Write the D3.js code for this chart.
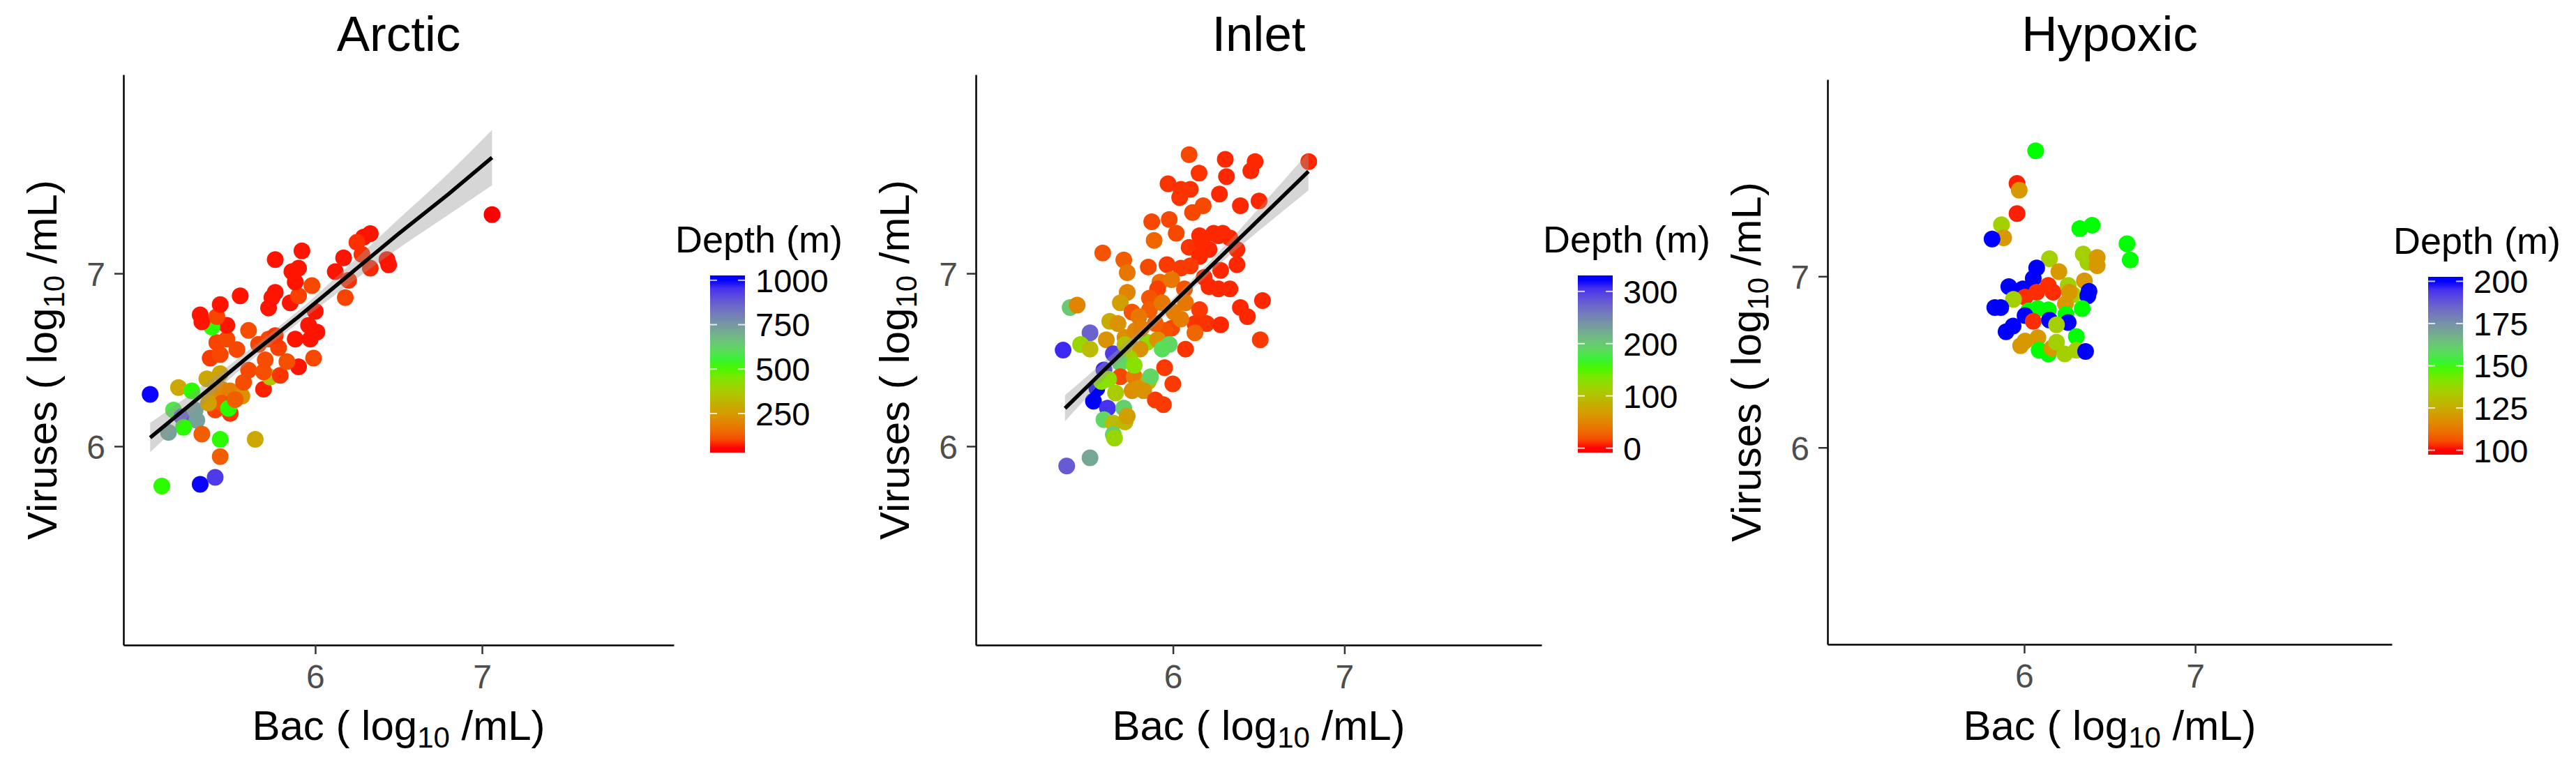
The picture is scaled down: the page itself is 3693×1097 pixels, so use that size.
<!DOCTYPE html>
<html>
<head>
<meta charset="utf-8">
<script src="https://cdn.jsdelivr.net/npm/d3@7"></script>
<style>
  body { margin: 0; background: #fff; }
  svg { display: block; font-family: "Liberation Sans", Arial, Helvetica, sans-serif; }
</style>
</head>
<body>
<div id="chart"></div>
<script>
// ---- data (log10 /mL, depth in m) ----
var arcticBac = [5.01,5.18,5.26,5.35,5.43,5.15,5.20,5.28,5.29,5.21,5.12,5.32,5.43,5.64,5.43,5.08,5.31,5.40,
  5.39,5.44,5.49,5.56,5.40,5.44,5.49,5.48,5.52,5.36,5.57,5.60,5.69,5.73,5.79,5.69,5.90,5.99,5.70,5.83,
  5.37,5.43,5.53,5.41,5.47,5.66,5.72,5.78,5.76,5.88,5.97,5.60,5.47,5.38,5.32,5.31,5.41,5.43,5.55,5.72,
  5.76,5.85,5.90,5.98,6.00,5.96,6.01,6.18,6.12,5.86,6.20,6.33,6.44,7.06,6.33,6.29,6.25,6.28,6.43,6.17,
  5.92,5.76,5.90,5.88,5.74];
var arcticVir = [6.30,6.34,6.32,6.39,6.42,6.21,6.17,6.21,6.15,6.11,6.08,6.07,6.04,6.04,5.94,5.77,5.78,5.82,
  6.29,6.33,6.32,6.29,6.21,6.25,6.19,6.22,6.27,6.25,6.37,6.44,6.33,6.40,6.41,6.43,6.46,6.51,6.50,6.49,
  6.51,6.53,6.56,6.60,6.62,6.59,6.62,6.57,6.64,6.62,6.62,6.67,6.70,6.69,6.72,6.76,6.75,6.82,6.87,6.80,
  6.89,6.83,6.87,6.93,6.78,6.70,6.66,6.86,7.01,7.01,6.96,7.03,7.05,7.34,7.23,7.21,7.18,7.11,7.08,7.09,
  7.13,7.08,7.03,6.95,6.86];
var arcticDepth = [1000,280,520,280,270,580,880,730,730,520,730,130,520,280,130,520,1000,940,
  230,210,190,230,90,120,80,520,130,260,105,100,65,360,80,110,60,100,105,110,
  85,100,100,95,100,95,100,90,80,60,60,105,60,520,60,60,95,60,60,60,
  60,60,90,100,60,60,60,95,60,60,75,70,60,55,60,60,75,75,60,60,
  60,60,60,60,60];
var arcticDepthLimits = [55, 1002];
var arcticDepthTicks = [250, 500, 750, 1000];
var arcticFitX  = [5.01, 5.30, 5.60, 5.90, 6.20, 6.50, 6.80, 7.06];
var arcticFitY  = [6.05, 6.28, 6.52, 6.75, 6.99, 7.23, 7.46, 7.67];
var arcticFitLo = [5.965, 6.225, 6.485, 6.715, 6.935, 7.145, 7.34, 7.51];
var arcticFitHi = [6.135, 6.335, 6.555, 6.785, 7.045, 7.315, 7.58, 7.83];

var inletBac = [6.094,6.305,6.479,6.454,6.792,6.152,6.312,5.971,6.046,6.101,6.039,6.271,6.176,6.114,6.393,6.502,
  5.876,5.978,6.019,5.890,5.590,5.713,5.733,5.856,5.965,6.046,6.094,6.169,6.237,6.291,6.210,6.373,6.155,6.373,
  6.278,6.182,5.924,5.992,6.067,5.910,6.210,6.265,6.332,6.522,6.393,6.434,6.509,5.733,5.400,5.441,5.863,5.863,
  5.937,6.005,6.073,6.155,6.128,6.196,6.278,6.128,6.073,5.992,5.951,5.693,5.761,5.631,5.679,5.516,5.461,5.516,
  5.359,5.611,5.720,5.781,5.849,5.910,5.978,5.937,5.808,5.652,5.747,5.693,5.597,5.951,5.999,5.693,5.774,5.856,
  5.869,5.761,5.829,5.897,5.944,5.556,5.536,5.618,5.665,5.624,5.713,5.597,5.652,5.720,5.652,5.659,5.516,5.380,
  5.801,5.815,5.897,6.046,6.101,6.155,6.265,6.332,5.583,5.720,5.774,5.733,5.795];
var inletVir = [7.687,7.660,7.647,7.593,7.647,7.580,7.560,7.519,7.486,7.486,7.439,7.459,7.392,7.352,7.392,7.419,
  7.299,7.312,7.232,7.191,7.118,7.078,7.004,7.037,7.051,7.031,7.151,7.178,7.232,7.232,7.138,7.138,7.098,7.051,
  7.017,6.977,6.950,6.964,6.910,6.910,6.924,6.910,6.910,6.843,6.803,6.750,6.616,6.890,6.803,6.817,6.857,6.790,
  6.830,6.776,6.830,6.790,6.710,6.710,6.703,6.656,6.562,6.683,6.669,6.830,6.776,6.723,6.710,6.656,6.589,6.562,
  6.556,6.616,6.629,6.669,6.602,6.616,6.589,6.562,6.562,6.535,6.509,6.482,6.442,6.455,6.361,6.402,6.402,6.375,
  6.402,6.321,6.321,6.268,6.241,6.335,6.261,6.221,6.308,6.388,6.221,6.154,6.134,6.141,6.067,6.047,5.933,5.886,
  6.750,6.683,6.710,6.736,7.044,7.218,7.218,7.205,6.375,6.589,6.469,6.174,6.335];
var inletDepth = [15,5,5,5,5,8,5,8,8,8,8,5,15,15,5,5,
  15,15,15,30,20,25,40,15,10,10,8,5,5,5,5,5,5,5,
  5,5,35,40,20,12,5,5,5,5,5,5,10,50,200,50,20,25,
  40,45,40,10,8,8,5,30,8,15,20,70,20,80,60,275,120,95,
  310,60,55,50,125,60,190,185,60,300,110,190,310,10,10,15,45,85,
  190,55,60,10,10,322,322,305,110,125,195,190,95,90,195,120,225,280,
  40,45,25,45,10,5,5,5,130,100,130,70,60];
var inletDepthLimits = [0, 322];
var inletDepthTicks = [0, 100, 200, 300];
var inletFitX  = [5.37, 5.60, 5.85, 6.10, 6.35, 6.60, 6.79];
var inletFitY  = [6.22, 6.442, 6.683, 6.924, 7.166, 7.407, 7.59];
var inletFitLo = [6.145, 6.392, 6.651, 6.894, 7.121, 7.327, 7.48];
var inletFitHi = [6.295, 6.492, 6.715, 6.954, 7.211, 7.487, 7.70];

var hypoxicBac = [6.067,5.958,5.971,5.958,5.867,5.880,5.812,6.325,6.397,6.601,6.620,6.345,6.372,6.427,6.427,6.148,
  6.073,6.053,6.203,6.352,5.910,5.992,6.141,6.169,6.073,6.005,6.257,6.286,6.241,6.372,6.379,5.937,5.828,5.863,
  6.026,6.080,6.141,6.244,6.339,6.005,6.053,6.148,6.257,6.189,5.894,5.935,6.305,5.979,6.005,6.080,6.087,6.141,
  6.162,6.189,6.237,6.305,6.359,6.264];
var hypoxicVir = [7.733,7.543,7.503,7.367,7.302,7.225,7.218,7.279,7.299,7.191,7.096,7.130,7.083,7.110,7.062,7.103,
  7.049,6.988,7.028,6.974,6.940,6.927,6.947,6.907,6.907,6.879,6.947,6.893,6.839,6.886,6.913,6.866,6.818,6.818,
  6.798,6.812,6.805,6.778,6.812,6.771,6.737,6.744,6.730,6.717,6.676,6.710,6.649,6.595,6.622,6.642,6.568,6.547,
  6.581,6.615,6.547,6.568,6.561,6.907];
var hypoxicDepth = [150,101,120,101,135,120,200,150,150,150,150,135,135,120,120,135,
  200,200,120,120,200,200,102,102,102,102,135,135,120,200,200,135,200,200,
  150,150,150,150,150,200,102,200,200,135,200,200,150,120,120,120,150,150,
  120,135,135,135,200,120];
var hypoxicDepthLimits = [100, 200];
var hypoxicDepthTicks = [100, 125, 150, 175, 200];

var axisTicks = [6, 7];
var axisLimits = [5, 8];

// ---- layout ----
var W = 3693, H = 1097;
var svg = d3.select("#chart").append("svg")
    .attr("width", W)
    .attr("height", H);

var panels = [
  { title: "Arctic", bac: arcticBac, vir: arcticVir, depth: arcticDepth,
    limits: arcticDepthLimits, ticks: arcticDepthTicks,
    fit: { x: arcticFitX, y: arcticFitY, lo: arcticFitLo, hi: arcticFitHi },
    left: 177, right: 966, top: 107, bottom: 925, barTop: 395, barBottom: 649 },
  { title: "Inlet", bac: inletBac, vir: inletVir, depth: inletDepth,
    limits: inletDepthLimits, ticks: inletDepthTicks,
    fit: { x: inletFitX, y: inletFitY, lo: inletFitLo, hi: inletFitHi },
    left: 1399, right: 2210, top: 107, bottom: 925, barTop: 395, barBottom: 649 },
  { title: "Hypoxic", bac: hypoxicBac, vir: hypoxicVir, depth: hypoxicDepth,
    limits: hypoxicDepthLimits, ticks: hypoxicDepthTicks,
    fit: null,
    left: 2620, right: 3429, top: 114, bottom: 924, barTop: 397, barBottom: 652 }
];

// ggplot default 5% expansion of the limits
function expand(lim) {
  var d = (lim[1] - lim[0]) * 0.05;
  return [lim[0] - d, lim[1] + d];
}

panels.forEach(function(p, i) {
  var g = svg.append("g").attr("class", "panel panel-" + i);

  var x = d3.scaleLinear().domain(expand(axisLimits)).range([p.left, p.right]);
  var y = d3.scaleLinear().domain(expand(axisLimits)).range([p.bottom, p.top]);

  // colour ramp red -> green -> blue in Lab, like scale_colour_gradientn
  var lo = p.limits[0], hi = p.limits[1];
  var colour = d3.scaleLinear()
      .domain([lo, (lo + hi) / 2, hi])
      .range(["#ff0000", "#00ff00", "#0000ff"])
      .interpolate(d3.interpolateLab)
      .clamp(true);

  // points
  g.append("g").selectAll("circle")
      .data(p.bac.map(function(b, k) { return { bac: b, vir: p.vir[k], depth: p.depth[k] }; }))
      .enter()
      .append("circle")
      .attr("cx", function(d) { return x(d.bac); })
      .attr("cy", function(d) { return y(d.vir); })
      .attr("r", 12)
      .attr("fill", function(d) { return colour(d.depth); });

  // smoother: confidence band over points, then the line
  if (p.fit) {
    var fitData = p.fit.x.map(function(v, k) {
      return { x: v, y: p.fit.y[k], lo: p.fit.lo[k], hi: p.fit.hi[k] };
    });
    g.append("path")
        .datum(fitData)
        .attr("fill", "#999999")
        .attr("fill-opacity", 0.4)
        .attr("d", d3.area()
            .curve(d3.curveMonotoneX)
            .x(function(d) { return x(d.x); })
            .y0(function(d) { return y(d.lo); })
            .y1(function(d) { return y(d.hi); }));
    g.append("path")
        .datum(fitData)
        .attr("fill", "none")
        .attr("stroke", "#000")
        .attr("stroke-width", 5.5)
        .attr("d", d3.line()
            .x(function(d) { return x(d.x); })
            .y(function(d) { return y(d.y); }));
  }

  // axes
  var xAxis = g.append("g")
      .attr("transform", "translate(0," + p.bottom + ")")
      .call(d3.axisBottom(x).tickValues(axisTicks).tickSize(13).tickSizeOuter(0).tickPadding(15)
          .tickFormat(d3.format("d")));
  var yAxis = g.append("g")
      .attr("transform", "translate(" + p.left + ",0)")
      .call(d3.axisLeft(y).tickValues(axisTicks).tickSize(13).tickSizeOuter(0).tickPadding(13)
          .tickFormat(d3.format("d")));
  [xAxis, yAxis].forEach(function(a) {
    a.select(".domain").attr("stroke", "#000").attr("stroke-width", 2.5);
    a.selectAll(".tick line").attr("stroke", "#333").attr("stroke-width", 2.5);
    a.selectAll(".tick text")
        .attr("fill", "#4d4d4d")
        .style("font-size", "48px")
        .style("font-family", "Liberation Sans, Arial, sans-serif");
  });
  yAxis.selectAll(".tick text").attr("dy", "0.36em");

  // title
  g.append("text")
      .attr("x", (p.left + p.right) / 2)
      .attr("y", 73)
      .attr("text-anchor", "middle")
      .style("font-size", "71px")
      .text(p.title);

  // axis titles with log10 subscript
  function axisTitle(sel, prefix) {
    sel.style("font-size", "60px").style("white-space", "pre");
    sel.append("tspan").text(prefix + " ( log");
    sel.append("tspan").attr("dy", 11).style("font-size", "42px").text("10");
    sel.append("tspan").attr("dy", -11).text(" /mL)");
  }
  g.append("text")
      .attr("x", (p.left + p.right) / 2)
      .attr("y", 1061)
      .attr("text-anchor", "middle")
      .call(axisTitle, "Bac");
  var cy = (p.top + p.bottom) / 2;
  g.append("text")
      .attr("transform", "translate(" + (p.left - 96) + "," + cy + ") rotate(-90)")
      .attr("text-anchor", "middle")
      .call(axisTitle, "Viruses");

  // colour bar legend
  var barLeft = p.right + 52, barW = 50;
  var barH = p.barBottom - p.barTop;
  var nbin = 20;
  var gradId = "grad" + i;
  var grad = svg.append("defs").append("linearGradient")
      .attr("id", gradId)
      .attr("x1", 0).attr("y1", 1).attr("x2", 0).attr("y2", 0);
  d3.range(nbin).forEach(function(k) {
    var v = lo + (hi - lo) * k / (nbin - 1);
    grad.append("stop")
        .attr("offset", (k + 0.5) / nbin)
        .attr("stop-color", colour(v));
  });
  var leg = g.append("g").attr("class", "legend");
  leg.append("text")
      .attr("x", p.right + 2)
      .attr("y", p.barTop - 33)
      .style("font-size", "54px")
      .text("Depth (m)");
  leg.append("rect")
      .attr("x", barLeft).attr("y", p.barTop)
      .attr("width", barW).attr("height", barH)
      .attr("fill", "url(#" + gradId + ")");

  // tick positions sit half a bin inside the bar ends
  var barScale = d3.scaleLinear()
      .domain([lo, hi])
      .range([p.barBottom - barH * 0.5 / nbin, p.barTop + barH * 0.5 / nbin]);
  var t = leg.selectAll(".ltick").data(p.ticks).enter().append("g").attr("class", "ltick");
  t.append("line")
      .attr("x1", barLeft).attr("x2", barLeft + 10)
      .attr("y1", function(d) { return barScale(d); })
      .attr("y2", function(d) { return barScale(d); })
      .attr("stroke", "#fff").attr("stroke-opacity", 0.8).attr("stroke-width", 2);
  t.append("line")
      .attr("x1", barLeft + barW - 10).attr("x2", barLeft + barW)
      .attr("y1", function(d) { return barScale(d); })
      .attr("y2", function(d) { return barScale(d); })
      .attr("stroke", "#fff").attr("stroke-opacity", 0.8).attr("stroke-width", 2);
  t.append("text")
      .attr("x", barLeft + barW + 15)
      .attr("y", function(d) { return barScale(d); })
      .attr("dy", "0.36em")
      .style("font-size", "47px")
      .text(function(d) { return d; });
});
</script>
</body>
</html>
